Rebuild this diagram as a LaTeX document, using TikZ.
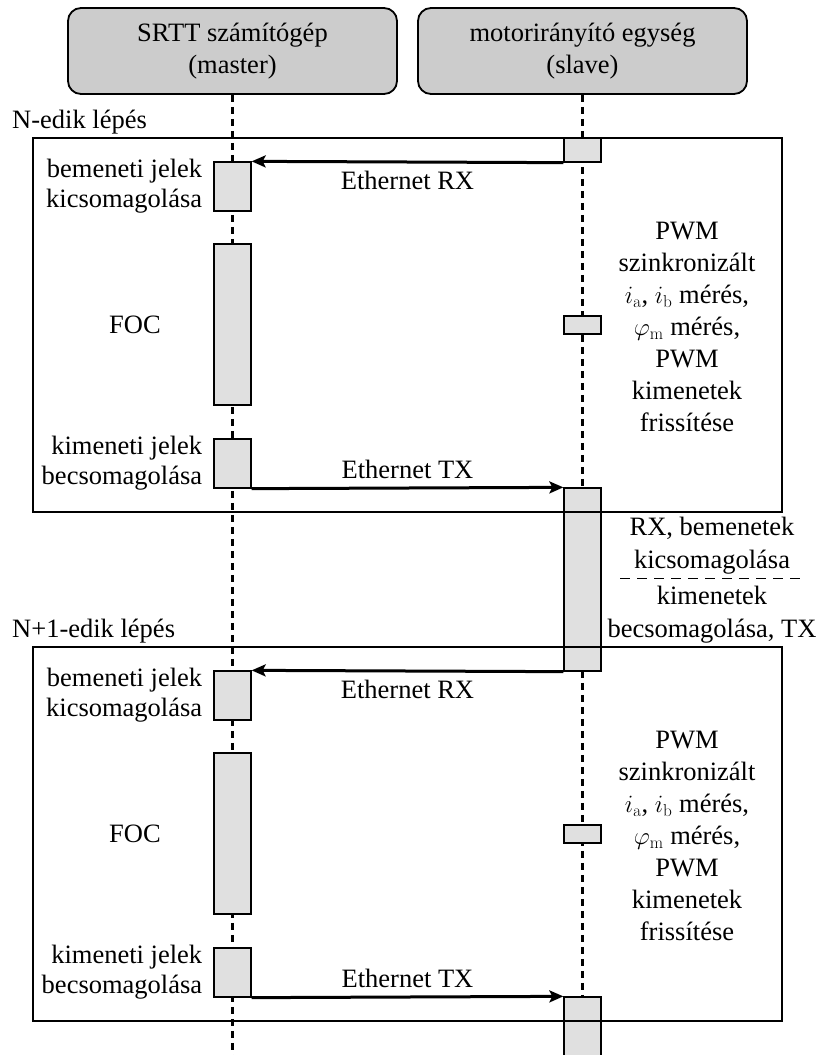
\documentclass[tikz,border=0pt]{standalone}
\usepackage[no-math]{fontspec}
\setmainfont{Liberation Serif}
\usetikzlibrary{arrows.meta}
\definecolor{hdrgray}{HTML}{CCCCCC}
\definecolor{actgray}{HTML}{E0E0E0}
\begin{document}
\begin{tikzpicture}[x=1pt,y=-1pt,
  every node/.style={font=\fontsize{26.5}{32}\selectfont},
  header/.style={draw, line width=1.8pt, fill=hdrgray, rounded corners=13pt,
    minimum width=329pt, minimum height=86pt, align=center, inner sep=0pt},
  act/.style={draw, line width=1.3pt, fill=actgray, minimum width=37pt, inner sep=0pt},
  lifeline/.style={line width=3pt, dash pattern=on 7.5pt off 4.5pt},
  frame/.style={line width=1.4pt},
  msg/.style={line width=3pt, -{Stealth[length=14pt,width=12pt,inset=3pt]}},
  lbl/.style={inner sep=0pt, align=center},
  sidelbl/.style={inner sep=0pt, align=right, anchor=east,
    font=\fontsize{26.5}{30}\selectfont},
  rxlbl/.style={inner sep=0pt, align=center, font=\fontsize{26.5}{33}\selectfont},
  sepline/.style={line width=1pt, dash pattern=on 9.5pt off 7.5pt},
]
\useasboundingbox (0,0) rectangle (819,1055);

% headers
\node[header] (hdrL) at (232.5,51) {SRTT számítógép\\(master)};
\node[header] (hdrR) at (582.5,51) {motorirányító egység\\(slave)};

% lifelines
\coordinate (endL) at (232.5,1060);
\coordinate (endR) at (582.5,1060);
\draw[lifeline] (hdrL.south) -- (endL);
\draw[lifeline] (hdrR.south) -- (endR);

% activation boxes, step N
\node[act, minimum height=24pt]  (Rrx1)   at (582.5,150) {};
\node[act, minimum height=49pt]  (Lin1)   at (232.5,186.5) {};
\node[act, minimum height=161pt] (Lfoc1)  at (232.5,324.5) {};
\node[act, minimum height=49pt]  (Lout1)  at (232.5,463.5) {};
\node[act, minimum height=18pt]  (Rmeas1) at (582.5,325) {};
\node[act, minimum height=183pt] (Rbig1)  at (582.5,579.5) {};
% activation boxes, step N+1
\node[act, minimum height=49pt]  (Lin2)   at (232.5,695.5) {};
\node[act, minimum height=161pt] (Lfoc2)  at (232.5,833.5) {};
\node[act, minimum height=49pt]  (Lout2)  at (232.5,972.5) {};
\node[act, minimum height=18pt]  (Rmeas2) at (582.5,834) {};
\node[act, minimum height=70pt]  (Rbig2)  at (582.5,1032) {};

% step frames
\draw[frame] (33,138) rectangle (782,512);
\draw[frame] (33,647) rectangle (782,1021);

% step titles
\node[anchor=base west, inner sep=0pt] (step1) at (12,128) {N-edik lépés};
\node[anchor=base west, inner sep=0pt] (step2) at (12,637) {N+1-edik lépés};

% messages
\draw[msg] (Rrx1.south west) -- node[lbl, below=8pt] (erx1) {Ethernet RX} (Lin1.north east);
\draw[msg] (Lout1.south east) -- node[lbl, above=8pt] (etx1) {Ethernet TX} (Rbig1.north west);
\draw[msg] (Rbig1.south west) -- node[lbl, below=8pt] (erx2) {Ethernet RX} (Lin2.north east);
\draw[msg] (Lout2.south east) -- node[lbl, above=8pt] (etx2) {Ethernet TX} (Rbig2.north west);

% left-side labels
\node[sidelbl] (in1)  at ([xshift=-11pt]Lin1.west)  {bemeneti jelek\\kicsomagolása};
\node[lbl]     (foc1) at (135,324.5) {FOC};
\node[sidelbl] (out1) at ([xshift=-11pt]Lout1.west) {kimeneti jelek\\becsomagolása};
\node[sidelbl] (in2)  at ([xshift=-11pt]Lin2.west)  {bemeneti jelek\\kicsomagolása};
\node[lbl]     (foc2) at (135,833.5) {FOC};
\node[sidelbl] (out2) at ([xshift=-11pt]Lout2.west) {kimeneti jelek\\becsomagolása};

% right-side labels
\node[lbl] (pwm1) at (687,327) {PWM\\szinkronizált\\$i_\mathrm{a}$, $i_\mathrm{b}$ mérés,\\$\varphi_\mathrm{m}$ mérés,\\PWM\\kimenetek\\frissítése};
\node[lbl] (pwm2) at (687,836) {PWM\\szinkronizált\\$i_\mathrm{a}$, $i_\mathrm{b}$ mérés,\\$\varphi_\mathrm{m}$ mérés,\\PWM\\kimenetek\\frissítése};

\node[rxlbl, anchor=south] (rxa) at (712,574) {RX, bemenetek\\kicsomagolása};
\node[rxlbl, anchor=north] (rxb) at (712,586) {kimenetek\\becsomagolása, TX};
\coordinate (sepA) at (620,578);
\coordinate (sepB) at (803,578);
\draw[sepline] (sepA) -- (sepB);
\end{tikzpicture}
\end{document}
